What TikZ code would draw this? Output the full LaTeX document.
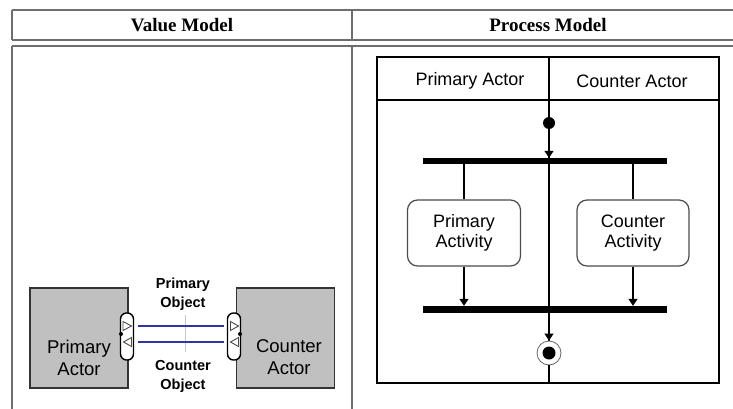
\documentclass[tikz,border=0pt]{standalone}
\usepackage{fontspec}
\setmainfont{Liberation Serif}
\setsansfont{Liberation Sans}
\usetikzlibrary{arrows.meta}
\definecolor{rulec}{HTML}{6E6E6E}
\definecolor{actorgray}{HTML}{C0C0C0}
\definecolor{flowblue}{HTML}{3434A8}
\tikzset{
  tablerule/.style={draw=rulec, line width=1.3pt},
  headtext/.style={font=\bfseries\fontsize{19}{22}\selectfont, inner sep=0pt},
  actorbox/.style={draw=black!80, line width=1.8pt, fill=actorgray, minimum width=98pt, minimum height=100pt, inner sep=0pt},
  actortext/.style={font=\sffamily\fontsize{18.5}{22}\selectfont, align=center, inner sep=0pt},
  objtext/.style={font=\sffamily\bfseries\fontsize{14.5}{19}\selectfont, align=center, inner sep=0pt},
  portbox/.style={draw=black, line width=1.4pt, fill=white, rounded corners=6pt, minimum width=13pt, minimum height=47pt, inner sep=0pt},
  flow/.style={draw=flowblue, line width=2.6pt},
  hollowtri/.style={draw=black!70, line width=0.9pt, fill=white},
  frameline/.style={draw=black, line width=1.1pt},
  lanetext/.style={font=\sffamily\fontsize{18}{20}\selectfont, inner sep=0pt},
  actbox/.style={draw=black!70, line width=1.2pt, rounded corners=10pt, minimum height=66pt, font=\sffamily\fontsize{18}{20}\selectfont, align=center, inner sep=0pt, fill=white},
  bar/.style={fill=black, minimum width=244pt, inner sep=0pt},
  flowarrow/.style={draw=black, line width=1.1pt, -{Triangle[length=7pt,width=9pt]}},
  plainflow/.style={draw=black, line width=1.1pt},
}
\begin{document}
\begin{tikzpicture}[x=1pt,y=-1pt]
\useasboundingbox (0,0) rectangle (733,409);
\fill[white] (0,0) rectangle (733,409);
% table
\draw[tablerule] (12,10) -- (733,10);
\draw[tablerule] (12,40) -- (733,40);
\draw[tablerule] (12,46) -- (733,46);
\draw[tablerule] (12,10) -- (12,40);
\draw[tablerule] (352,10) -- (352,40);
\draw[tablerule] (12,46) -- (12,409);
\draw[tablerule] (352,46) -- (352,409);
\node[headtext] (hv) at (182,25) {Value Model};
\node[headtext] (hp) at (548,25) {Process Model};

% value model
\draw[gray!45, line width=1pt] (185,315) -- (185,352);
\node[actorbox] (pa) at (79,338) {};
\node[actorbox] (ca) at (285.5,338) {};
\node[actortext] (pat) at (79,358) {Primary\\Actor};
\node[actortext] (cat) at (289,357) {Counter\\Actor};
\node[portbox] (pp) at (127,336.5) {};
\node[portbox] (cp) at (234,336.5) {};
\draw[flow] ([xshift=4pt,yshift=10.5pt]pp.east) -- ([xshift=-3pt,yshift=10.5pt]cp.west);
\draw[flow] ([xshift=4pt,yshift=-5.5pt]pp.east) -- ([xshift=-3pt,yshift=-5.5pt]cp.west);
% hollow triangles in ports
\draw[hollowtri] (123,321.5) -- (131.5,326) -- (123,330.5) -- cycle;
\draw[hollowtri] (131.5,337.5) -- (123.5,342) -- (131.5,346.5) -- cycle;
\draw[hollowtri] (230.5,321.5) -- (238.5,326) -- (230.5,330.5) -- cycle;
\draw[hollowtri] (238.5,337.5) -- (230.5,342) -- (238.5,346.5) -- cycle;
\fill[black] (121,334) circle (2pt);
\fill[black] (240,334) circle (2pt);
\node[objtext] (po) at (183,294) {Primary\\Object};
\node[objtext] (co) at (183,376) {Counter\\Object};

% process model
\draw[frameline] (377,57) rectangle (719,383);
\draw[frameline] (377,100) -- (719,100);
\draw[frameline] (549,57) -- (549,383);
\node[lanetext] (pl) at (470,81) {Primary Actor};
\node[lanetext] (cl) at (632,81) {Counter Actor};
\node[circle, fill=black, minimum size=12pt, inner sep=0pt] (init) at (549,123) {};
\node[bar, minimum height=6pt] (fork) at (545,161) {};
\node[actbox, minimum width=113pt] (pact) at (464,233) {Primary\\Activity};
\node[actbox, minimum width=112pt] (cact) at (633,233) {Counter\\Activity};
\node[bar, minimum height=7pt] (join) at (545,309.5) {};
\node[circle, draw=black!60, line width=0.8pt, fill=white, minimum size=24pt, inner sep=0pt] (final) at (549,353) {};
\fill[black] (final.center) circle (6.5pt);
\draw[flowarrow] (init) -- (init |- fork.north);
\draw[plainflow] (pact |- fork.south) -- (pact.north);
\draw[plainflow] (cact |- fork.south) -- (cact.north);
\draw[flowarrow] (pact.south) -- (pact |- join.north);
\draw[flowarrow] (cact.south) -- (cact |- join.north);
\draw[flowarrow] (init |- join.south) -- (final.north);
\draw[plainflow] (final.south) -- (549,383);
\end{tikzpicture}
\end{document}
